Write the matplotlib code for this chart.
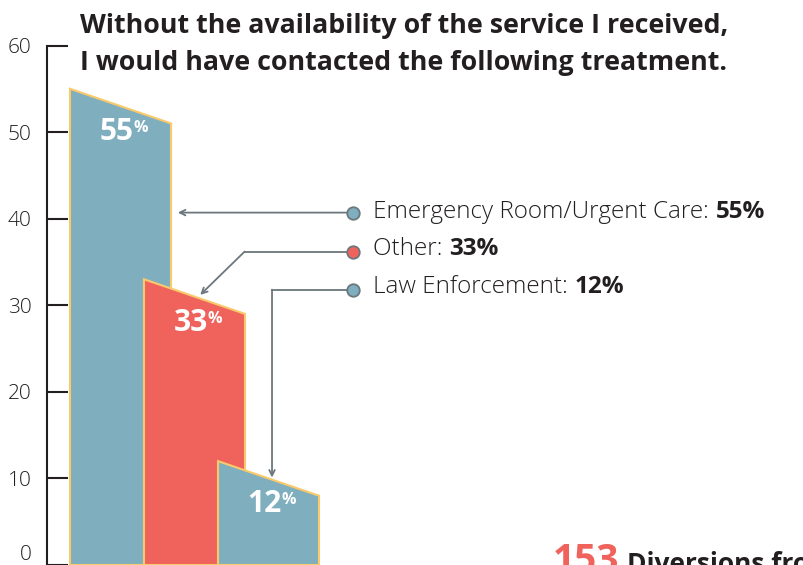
import matplotlib.pyplot as plt

plt.rcParams['font.family'] = ['Open Sans', 'DejaVu Sans']

categories = ["Emergency Room/Urgent Care", "Other", "Law Enforcement"]
values = [55, 33, 12]
colors = ["#7fafbf", "#f0635c", "#7fafbf"]
pct_labels = ["55%", "33%", "12%"]

title_lines = ["Without the availability of the service I received,",
               "I would have contacted the following treatment."]

dark = "#231f20"
gray = "#6b777c"
edge = "#f9c96b"
bar_w = 101 / 74   # bars overlap each other
slope = 4          # drop of the slanted top

fig = plt.figure(figsize=(8.04, 5.65), dpi=100)
ax = fig.add_axes([47 / 804, 0, 1 - 47 / 804, (565 - 45.5) / 565])
ax.set_ylim(0, 60)
ax.set_xlim(-23 / 74, 734 / 74)

for i, (v, c) in enumerate(zip(values, colors)):
    x0, x1 = i, i + bar_w
    ax.fill([x0, x0, x1, x1], [0, v, v - slope, 0], facecolor=c,
            edgecolor=edge, linewidth=1.5, zorder=2 + i, clip_on=False)
    # value label with small superscript %
    t = ax.text(x0 + bar_w / 2 + 0.18, v - 5, pct_labels[i][:-1], color="white",
                fontsize=21.5, fontweight="bold", ha="right", va="center",
                zorder=10)
    ax.annotate("%", xy=(1.0, 0.9), xycoords=t, ha="left", va="top",
                color="white", fontsize=11.5, fontweight="bold", zorder=10)

# y axis
for s in ["top", "right", "bottom"]:
    ax.spines[s].set_visible(False)
ax.spines["left"].set_color(dark)
ax.spines["left"].set_linewidth(1.5)
ax.set_xticks([])
ax.set_yticks(range(0, 61, 10))
ax.tick_params(axis="y", direction="in", length=15, width=1.5, pad=11,
               labelsize=15, labelcolor=dark, color=dark)
for lab in ax.get_yticklabels():
    lab.set_fontweight("light")
ax.get_yticklabels()[0].set_va("bottom")

# callouts
dot_x = 3.83
text_x = 4.1
dot_y = [40.7, 36.2, 31.8]
base_y = [40.1, 35.8, 31.4]

# ER: straight arrow to first bar
ax.annotate("", xy=(1.42, dot_y[0]), xytext=(dot_x, dot_y[0]),
            arrowprops=dict(arrowstyle="->", color=gray, lw=1.3))
# Other: elbow then diagonal
ax.plot([dot_x, 2.36], [dot_y[1], dot_y[1]], color=gray, lw=1.3)
ax.annotate("", xy=(1.76, 31.2), xytext=(2.36, dot_y[1]),
            arrowprops=dict(arrowstyle="->", color=gray, lw=1.3,
                            shrinkA=0, shrinkB=0))
# Law: elbow then down
ax.plot([dot_x, 2.73], [dot_y[2], dot_y[2]], color=gray, lw=1.3)
ax.annotate("", xy=(2.73, 10.1), xytext=(2.73, dot_y[2]),
            arrowprops=dict(arrowstyle="->", color=gray, lw=1.3,
                            shrinkA=0, shrinkB=0))

for i, cat in enumerate(categories):
    ax.plot(dot_x, dot_y[i], "o", ms=9, mfc=colors[i], mec=gray, mew=1.3,
            zorder=12, clip_on=False)
    t = ax.text(text_x, base_y[i], cat + ": ", fontsize=17.5, color=dark,
                fontweight="light", va="baseline", ha="left")
    ax.annotate(pct_labels[i], xy=(1, 0), xycoords=t, va="bottom", ha="left",
                fontsize=17.5, fontweight="bold", color=dark)

# title
fig.text(80 / 804, 1 - 33 / 565, title_lines[0], fontsize=19.3,
         fontweight="bold", color=dark, va="baseline")
fig.text(80 / 804, 1 - 70 / 565, title_lines[1], fontsize=19.3,
         fontweight="bold", color=dark, va="baseline")

# cut-off footer text
t = fig.text(553 / 804, -7 / 565, "153", fontsize=28, fontweight="bold",
             color="#f0635c", va="baseline")
fig.text(627 / 804, -7 / 565, "Diversions from", fontsize=19,
         fontweight="bold", color=dark, va="baseline")

plt.savefig("out.png", dpi=100)
